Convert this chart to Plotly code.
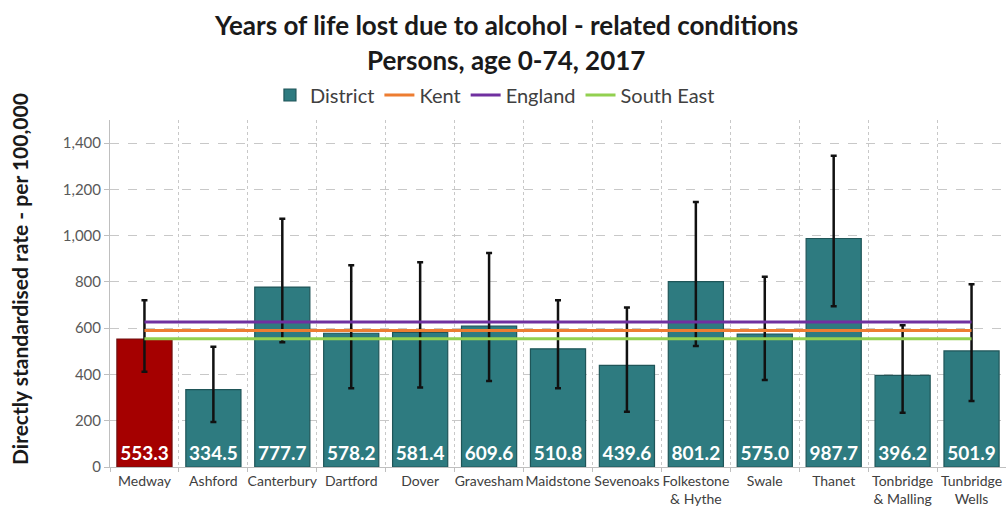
import plotly.graph_objects as go

districts = ["Medway", "Ashford", "Canterbury", "Dartford", "Dover", "Gravesham",
             "Maidstone", "Sevenoaks", "Folkestone<br>& Hythe", "Swale", "Thanet",
             "Tonbridge<br>& Malling", "Tunbridge<br>Wells"]
rates = [553.3, 334.5, 777.7, 578.2, 581.4, 609.6, 510.8, 439.6, 801.2, 575.0, 987.7, 396.2, 501.9]
upper_ci = [721, 520, 1073, 872, 885, 925, 721, 689, 1145, 822, 1346, 613, 790]
lower_ci = [412, 194, 539, 340, 344, 372, 340, 239, 523, 376, 695, 235, 285]
kent_rate = 590
england_rate = 627
south_east_rate = 554

teal = "#2E7B80"
teal_edge = "#1F5558"
red = "#A50000"
red_edge = "#6F1010"
FONT = "Lato, Open Sans, sans-serif"

fig = go.Figure()


def bar_trace(idx, name, color, edge, showlegend):
    xs = [districts[i] for i in idx]
    ys = [rates[i] for i in idx]
    return go.Bar(
        x=xs, y=ys, name=name, showlegend=showlegend, legendgroup=name,
        marker=dict(color=color, line=dict(color=edge, width=1.2)),
        width=0.8,
        text=[f"{v:.1f}" for v in ys],
        textposition="inside", insidetextanchor="start",
        textfont=dict(color="white", size=19, family=FONT, weight="bold"),
        constraintext="none",
        error_y=dict(type="data", symmetric=False,
                     array=[upper_ci[i] - rates[i] for i in idx],
                     arrayminus=[rates[i] - lower_ci[i] for i in idx],
                     color="#111111", thickness=2.5, width=3),
    )


fig.add_trace(bar_trace([0], "Medway", red, red_edge, False))
fig.add_trace(bar_trace(list(range(1, len(districts))), "District", teal, teal_edge, True))

for name, val, col in [("Kent", kent_rate, "#ED7D31"),
                       ("England", england_rate, "#7030A0"),
                       ("South East", south_east_rate, "#92D050")]:
    fig.add_trace(go.Scatter(
        x=[districts[0], districts[-1]], y=[val, val], mode="lines", name=name,
        line=dict(color=col, width=3),
    ))

PL, PT, PW, PH = 110, 120, 896, 347

fig.update_layout(
    width=1006, height=508,
    margin=dict(l=PL, r=0, t=PT, b=41),
    paper_bgcolor="white", plot_bgcolor="white",
    font=dict(family=FONT, color="#404040"),
    barmode="overlay",
    legend=dict(orientation="h", xref="container", x=0.492, xanchor="center",
                yref="container", y=1 - 95 / 508, yanchor="middle",
                font=dict(size=20, color="#404040"), traceorder="normal",
                itemwidth=30, bgcolor="rgba(0,0,0,0)"),
    showlegend=True,
    annotations=[
        dict(text="<b>Years of life lost due to alcohol - related conditions</b>",
             xref="paper", yref="paper", x=(506 - PL) / PW, y=1 + (PT - 25) / PH,
             xanchor="center", yanchor="middle", showarrow=False,
             font=dict(size=26, color="#1a1a1a", family=FONT)),
        dict(text="<b>Persons, age 0-74, 2017</b>",
             xref="paper", yref="paper", x=(506 - PL) / PW, y=1 + (PT - 60) / PH,
             xanchor="center", yanchor="middle", showarrow=False,
             font=dict(size=26, color="#1a1a1a", family=FONT)),
        dict(text="<b>Directly standardised rate - per 100,000</b>",
             xref="paper", yref="paper", x=(19 - PL) / PW, y=(PT + PH - 279) / PH,
             xanchor="center", yanchor="middle", showarrow=False, textangle=-90,
             font=dict(size=21, color="#1a1a1a", family=FONT)),
    ],
)

fig.update_xaxes(
    type="category", categoryorder="array", categoryarray=districts,
    tickson="boundaries", automargin=False,
    showgrid=True, gridcolor="#C8C8C8", griddash="dot", gridwidth=1,
    showline=True, linecolor="#BFBFBF", linewidth=1,
    ticks="outside", ticklen=4, tickcolor="#BFBFBF",
    ticklabelstandoff=1,
    tickfont=dict(size=14, color="#404040"),
    tickangle=0,
)
fig.update_yaxes(
    range=[0, 1500], tick0=0, dtick=200, tickformat=",",
    automargin=False,
    showgrid=True, gridcolor="#C8C8C8", griddash="dash", gridwidth=1,
    showline=True, linecolor="#BFBFBF", linewidth=1,
    ticks="outside", ticklen=5, tickcolor="#BFBFBF",
    tickfont=dict(size=15, color="#595959"),
    zeroline=False,
)

fig.write_html("out.html", config={"displayModeBar": False},
               post_script="document.body.style.margin='0';document.body.style.overflow='hidden';")
